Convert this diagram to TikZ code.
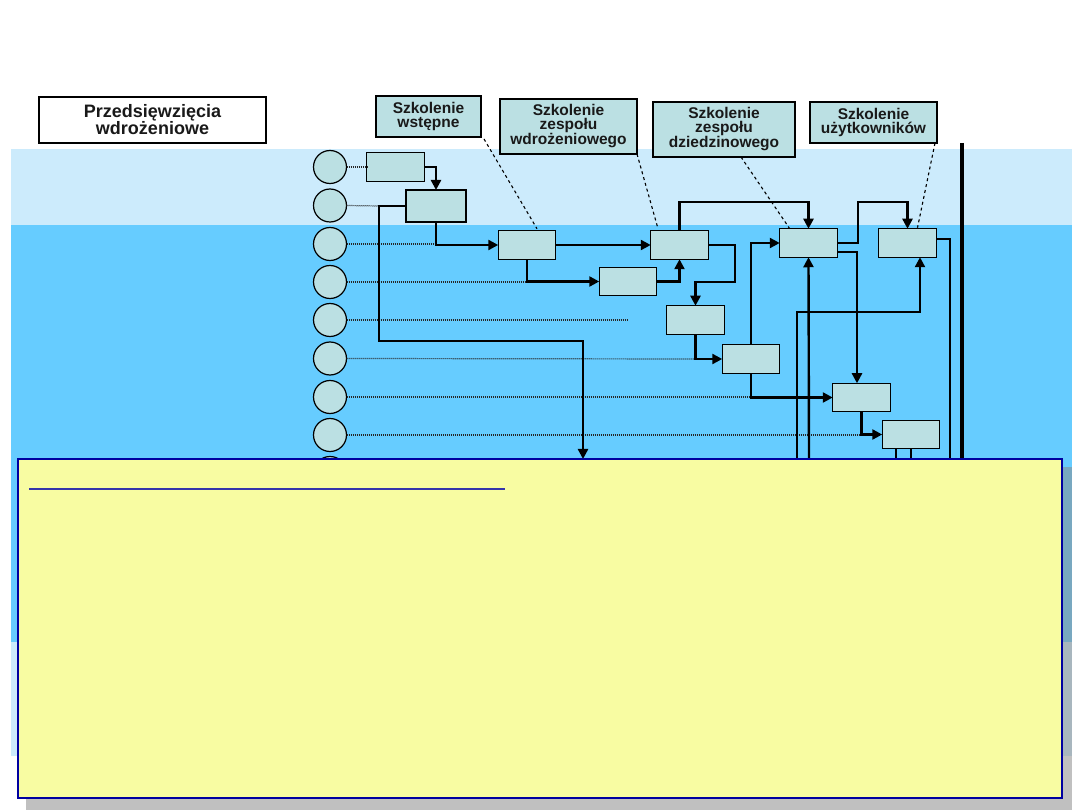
\documentclass[tikz,border=0pt]{standalone}
\usepackage{fontspec}
\setmainfont{Liberation Sans}
\usetikzlibrary{arrows.meta,calc}
\definecolor{bandlight}{HTML}{CCEBFC}
\definecolor{banddark}{HTML}{66CCFF}
\definecolor{boxfill}{HTML}{BBE0E3}
\definecolor{noteyellow}{HTML}{F8FCA2}
\definecolor{notenavy}{HTML}{0000A0}
\definecolor{noteline}{HTML}{3535AA}
\definecolor{shadowgray}{HTML}{888888}
\tikzset{
  box/.style={draw=black, fill=boxfill, line width=1.4pt, inner sep=0pt, outer sep=0pt,
    minimum width=57.5pt, minimum height=28.5pt},
  circ/.style={circle, draw=black, fill=boxfill, line width=1.2pt, inner sep=0pt, outer sep=0pt,
    minimum size=33pt},
  label/.style={draw=black, fill=boxfill, line width=1.4pt, inner sep=0pt, outer sep=0pt,
    align=center, font=\bfseries\fontsize{15.5pt}{13.5pt}\selectfont, text=black!90},
  conn/.style={line width=2.4pt, black},
  arr/.style={-{Triangle[length=10pt,width=10pt]}},
  dots/.style={line width=1.2pt, black!85, dash pattern=on 1pt off 1pt},
  callout/.style={line width=1.1pt, black, dash pattern=on 3pt off 3pt},
}
\begin{document}
\begin{tikzpicture}[x=1pt,y=-1pt]
\useasboundingbox (0,0) rectangle (1080,810);
\fill[white] (0,0) rectangle (1080,810);
% bands
\fill[bandlight] (11,149) rectangle (1072,225);
\fill[banddark] (11,225) rectangle (1072,642);
\fill[bandlight] (11,642) rectangle (1072,756);

% circles
\foreach \i/\yy in {1/167,2/205.5,3/244,4/282,5/320,6/358.5,7/397,8/435,9/473}
  \node[circ] (c\i) at (330,\yy) {};

% boxes
\node[box] (A1) at (395.5,167) {};
\node[box, minimum width=60pt, minimum height=32pt] (A2) at (436,206) {};
\node[box] (B) at (527,245) {};
\node[box] (C) at (679.5,245) {};
\node[box] (D) at (628,281.5) {};
\node[box] (E) at (695.5,320) {};
\node[box] (F) at (751,359) {};
\node[box] (G) at (808.5,243) {};
\node[box] (H) at (861.5,397.5) {};
\node[box] (I) at (911,434.5) {};
\node[box] (J) at (907.5,243) {};

% free ends
\coordinate (k2) at (379,206);
\coordinate (k3) at (436,244);
\coordinate (k4) at (527,282);
\coordinate (k5) at (628,320);
\coordinate (k6) at (696,359);
\coordinate (k7) at (751,397);
\coordinate (k8) at (862,435);
\coordinate (t583) at (583,459);
\coordinate (g0) at (809,459);
\coordinate (j0) at (797,459);
\coordinate (i1) at (896,459);
\coordinate (i2) at (911,459);
\coordinate (r0) at (950,459);
\coordinate (tl0) at (962,143);
\coordinate (tl1) at (962,459);

% dotted lines
\draw[dots] (c1.east) -- (A1.west);
\draw[dots] (c2.east) -- (k2);
\draw[dots] (c3.east) -- (k3);
\draw[dots] (c4.east) -- (k4);
\draw[dots] (c5.east) -- (k5);
\draw[dots] (c6.east) -- (k6);
\draw[dots] (c7.east) -- (k7);
\draw[dots] (c8.east) -- (k8);

% connectors
\draw[conn,arr] (A1.east) -| (A2.north);
\draw[conn,arr] (A2.west) -| (379,341) -| (t583);
\draw[conn,arr] (A2.south) |- (B.west);
\draw[conn,arr] (B.east) -- (C.west);
\draw[conn,arr] (B.south) |- (D.west);
\draw[conn,arr] (D.east) -| (C.south);
\draw[conn,arr] (C.east) -| (735,282) -| (E.north);
\draw[conn,arr] (E.south) |- (F.west);
\draw[conn,arr] (F.north) |- (G.west);
\draw[conn,arr] (F.south) |- (H.west);
\draw[conn,arr] (H.south) |- (I.west);
\draw[conn] ($(I.south)+(-15,0)$) -- (i1);
\draw[conn] (I.south) -- (i2);
\draw[conn,arr] (C.north) -- ++(0,-29) -| (G.north);
\draw[conn,arr] (G.east) -| (858,202) -| (J.north);
\draw[conn,arr] ($(G.east)+(0,9)$) -| ($(H.north)+(-4.5,0)$);
\draw[conn,arr] (g0) -- (G.south);
\draw[conn,arr] (j0) |- ($(J.south)+(12.5,55)$) -- ($(J.south)+(12.5,0)$);
\draw[conn] ($(J.east)+(0,-4)$) -| (r0);
\draw[line width=3.5pt, black] (tl0) -- (tl1);

% labels
\node[draw=black, fill=white, line width=2pt, inner sep=0pt, align=center,
  minimum width=227pt, minimum height=46pt,
  font=\bfseries\fontsize{18pt}{17pt}\selectfont, text=black!90]
  (P) at (152.5,120) {Przedsięwzięcia\\wdrożeniowe};
\node[label, minimum width=105pt, minimum height=41pt] (L1) at (428.5,116.5) {Szkolenie\\wstępne};
\node[label, minimum width=137pt, minimum height=55pt] (L2) at (568.5,126.5) {Szkolenie\\zespołu\\wdrożeniowego};
\node[label, line width=2.3pt, minimum width=142pt, minimum height=55pt] (L3) at (724,129.5) {Szkolenie\\zespołu\\dziedzinowego};
\node[label, minimum width=127pt, minimum height=41pt] (L4) at (873.5,122.5) {Szkolenie\\użytkowników};

% callouts
\draw[callout] ($(L1.south east)+(3,2)$) -- ($(B.north)+(10,-2)$);
\draw[callout] (L2.south east) -- ($(C.north west)+(7,-3)$);
\draw[callout] ($(L3.south)+(17,0)$) -- ($(G.north west)+(10,0)$);
\draw[callout] ($(L4.south east)+(-2,0)$) -- ($(J.north)+(10,-1)$);

% note panel with shadow
\fill[shadowgray, opacity=0.53] (26,467) rectangle (1072,812);
\draw[notenavy, fill=noteyellow, line width=1.3pt] (18,459) rectangle (1062,798);
\draw[notenavy, line width=2pt] (18,798) -- (1062,798);
\draw[noteline, line width=2pt] (29,489) -- (505,489);
\end{tikzpicture}
\end{document}
